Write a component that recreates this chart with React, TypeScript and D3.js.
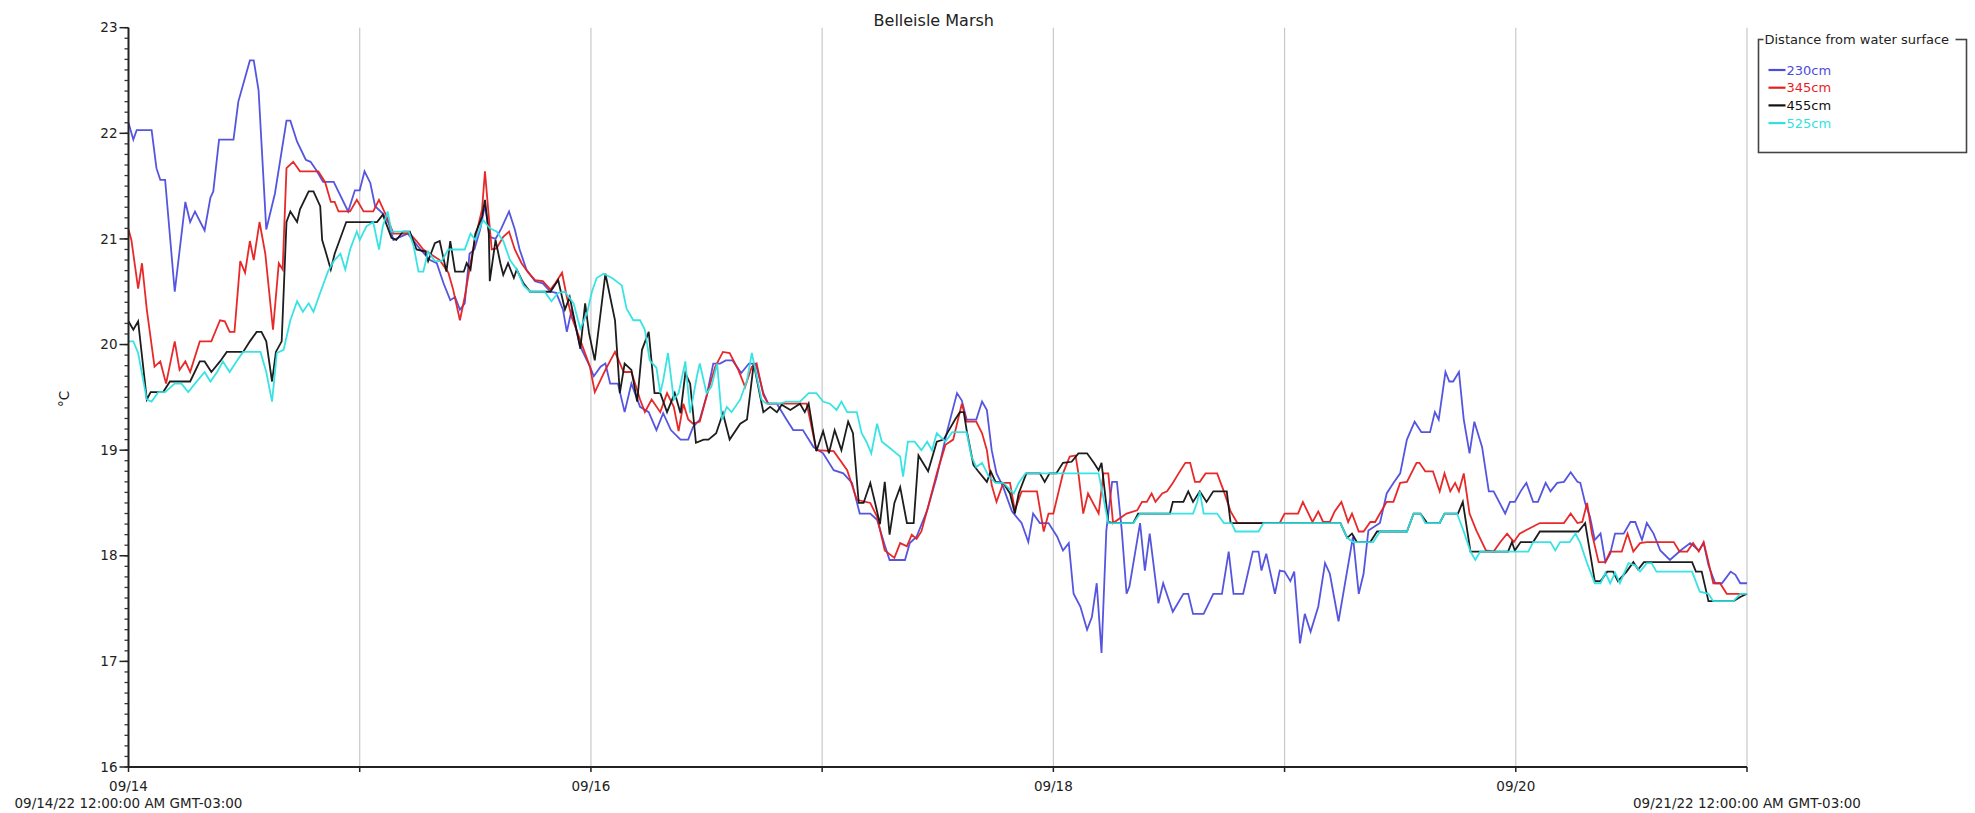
import React from "react";
import * as d3 from "d3";

const chartTitle = "Belleisle Marsh";
const yAxisLabel = "°C";
const legendTitle = "Distance from water surface";
const seriesNames = ["230cm", "345cm", "455cm", "525cm"];
const seriesColors = ["#4c4cde", "#e61e1e", "#111111", "#2fe2e2"];
const startLabel = "09/14/22 12:00:00 AM GMT-03:00";
const endLabel = "09/21/22 12:00:00 AM GMT-03:00";
const dayTickLabels = ["09/14", "09/16", "09/18", "09/20"];
const dayCount = 7;
const yDomain = [16, 23];

// [hours since 09/14 00:00, °C]
const s230: [number, number][] = [[0,22.10],[0.5,21.94],[0.85,22.03],[2.4,22.03],[2.9,21.67],[3.3,21.56],[3.8,21.56],[4.8,20.5],[5.9,21.35],[6.4,21.16],[6.9,21.26],[7.9,21.08],[8.5,21.39],[8.8,21.45],[9.4,21.94],[10.9,21.94],[11.4,22.3],[12.6,22.69],[13,22.69],[13.5,22.41],[14.3,21.09],[15.2,21.43],[16.4,22.12],[16.8,22.12],[17.5,21.92],[18.4,21.75],[18.9,21.73],[19.5,21.65],[20.2,21.54],[21.3,21.54],[22.8,21.26],[23.5,21.46],[24,21.46],[24.5,21.64],[25.1,21.53],[25.6,21.31],[26.4,21.24],[27,21.15],[27.5,20.99],[28.2,21.02],[29,21.05],[30.3,20.9],[31.3,20.8],[32,20.77],[32.7,20.58],[33.4,20.42],[33.9,20.45],[34.4,20.33],[34.9,20.39],[35.4,20.86],[35.9,20.9],[36.5,21.09],[37,21.32],[37.5,21.02],[38.1,21.0],[38.7,21.1],[39.5,21.26],[40.1,21.09],[40.6,20.9],[41.3,20.71],[42.2,20.6],[43,20.58],[43.8,20.5],[44.4,20.49],[45.1,20.33],[45.5,20.12],[46,20.33],[46.9,19.98],[47.9,19.79],[48.3,19.7],[49,19.79],[49.5,19.82],[50,19.63],[50.8,19.63],[51.5,19.36],[52.2,19.63],[53.1,19.41],[54,19.36],[54.8,19.19],[55.5,19.35],[56.3,19.19],[57.3,19.1],[58.1,19.1],[58.6,19.22],[59.3,19.29],[60,19.51],[60.7,19.82],[61.4,19.82],[62,19.85],[62.7,19.85],[63.6,19.73],[64.4,19.82],[65.1,19.82],[65.9,19.54],[66.4,19.44],[67.3,19.44],[68.3,19.29],[69,19.19],[70,19.19],[71.1,19.03],[72.1,18.97],[73.2,18.81],[74.2,18.78],[75.1,18.69],[75.9,18.4],[77,18.4],[77.7,18.34],[78.5,18.1],[79,17.96],[80.6,17.96],[81.1,18.12],[81.8,18.18],[82.9,18.43],[83.9,18.75],[85,19.19],[86,19.54],[86.5,19.47],[87,19.29],[88,19.29],[88.6,19.46],[89.1,19.38],[89.6,19.0],[90.1,18.78],[90.8,18.65],[91.7,18.42],[92.7,18.31],[93.4,18.13],[93.9,18.4],[94.6,18.31],[95.5,18.31],[96.4,18.18],[97,18.05],[97.6,18.12],[98.1,17.64],[98.8,17.52],[99.5,17.3],[100,17.42],[100.5,17.74],[101,17.08],[101.5,18.24],[102.1,18.7],[102.6,18.7],[103.1,18.24],[103.6,17.64],[103.9,17.71],[105,18.31],[105.5,17.86],[106,18.21],[106.9,17.55],[107.4,17.74],[108.4,17.47],[109.5,17.64],[110,17.64],[110.5,17.45],[111.6,17.45],[112.6,17.64],[113.5,17.64],[114.2,18.04],[114.7,17.64],[115.7,17.64],[116.7,18.04],[117.3,18.04],[117.6,17.86],[118.1,18.02],[119,17.64],[119.5,17.86],[120,17.85],[120.6,17.76],[121,17.85],[121.6,17.17],[122.1,17.45],[122.7,17.28],[123.5,17.52],[124.2,17.93],[124.7,17.83],[125.6,17.38],[126.5,17.86],[127.1,18.18],[127.7,17.64],[128.2,17.83],[128.7,18.24],[129.9,18.31],[130.6,18.59],[131.3,18.69],[132,18.78],[132.7,19.1],[133.5,19.27],[134.2,19.17],[135.1,19.17],[135.6,19.36],[136,19.29],[136.7,19.74],[137.1,19.65],[137.5,19.65],[138.1,19.74],[138.6,19.29],[139.2,18.97],[139.7,19.27],[140.5,19.03],[141.2,18.61],[141.7,18.61],[142.9,18.4],[143.4,18.51],[143.9,18.51],[144.5,18.61],[145.1,18.69],[145.8,18.51],[146.3,18.51],[147.1,18.69],[147.6,18.61],[148.3,18.69],[149,18.7],[149.7,18.79],[150.4,18.7],[150.7,18.69],[151.2,18.5],[151.7,18.37],[152.2,18.15],[152.8,18.21],[153.3,17.94],[153.8,18.02],[154.3,18.21],[155.2,18.21],[155.9,18.32],[156.4,18.32],[157.1,18.15],[157.6,18.31],[158.3,18.21],[159,18.05],[160,17.96],[161.1,18.05],[162.1,18.12],[163,18.05],[163.5,18.12],[164,17.91],[164.7,17.74],[165.4,17.74],[166.3,17.85],[166.8,17.82],[167.3,17.74],[168,17.74]];

const s345: [number, number][] = [[0,21.09],[0.3,20.99],[1,20.53],[1.4,20.77],[1.9,20.33],[2.7,19.79],[3.3,19.84],[3.9,19.63],[4.8,20.03],[5.3,19.76],[5.9,19.84],[6.4,19.74],[7.4,20.03],[8.6,20.03],[9.5,20.23],[10,20.22],[10.5,20.12],[11,20.12],[11.6,20.79],[12.1,20.68],[12.6,20.98],[13,20.8],[13.6,21.16],[14.2,20.86],[15,20.14],[15.6,20.77],[16,20.71],[16.4,21.67],[17.1,21.73],[17.8,21.64],[19.7,21.64],[20.4,21.54],[21,21.35],[21.4,21.35],[21.8,21.26],[23,21.26],[23.7,21.37],[24.4,21.26],[25.4,21.26],[26,21.37],[26.8,21.21],[27.5,21.05],[29.2,21.05],[29.9,20.98],[30.6,20.9],[31.3,20.86],[32.3,20.8],[33.2,20.68],[33.7,20.52],[34.4,20.23],[34.9,20.45],[35.5,20.77],[36.1,21.05],[36.7,21.28],[37,21.64],[37.4,21.21],[37.7,20.9],[38.2,20.91],[38.9,21.02],[39.5,21.07],[40.1,20.9],[40.8,20.77],[41.5,20.68],[42.2,20.61],[43,20.6],[43.8,20.52],[44.3,20.58],[45,20.68],[45.5,20.45],[46,20.26],[46.9,20.04],[47.9,19.79],[48.4,19.55],[49.5,19.76],[50.5,19.93],[51.4,19.74],[52.2,19.74],[53.1,19.48],[53.6,19.36],[54.3,19.48],[55.2,19.36],[55.9,19.54],[56.6,19.41],[57.1,19.18],[57.6,19.44],[58.1,19.29],[58.6,19.25],[59.3,19.27],[60,19.51],[60.9,19.79],[61.7,19.93],[62.4,19.92],[63.3,19.76],[64,19.6],[64.7,19.79],[65.2,19.82],[65.9,19.52],[66.4,19.44],[70.4,19.44],[71.4,19.0],[73.2,18.99],[74.6,18.81],[75.6,18.53],[77,18.5],[77.7,18.37],[78.5,18.05],[79.5,17.98],[80.1,18.12],[80.8,18.09],[81.3,18.2],[81.8,18.16],[82.3,18.23],[82.9,18.43],[83.9,18.78],[84.8,19.05],[85.6,19.1],[86.5,19.44],[87,19.27],[88,19.27],[88.6,19.16],[89.1,19.0],[89.6,18.67],[90.1,18.51],[90.8,18.69],[91.5,18.69],[92,18.43],[92.7,18.61],[94.3,18.61],[95,18.23],[95.5,18.4],[96,18.4],[97,18.78],[97.7,18.94],[98.3,18.95],[98.6,18.78],[99.1,18.4],[99.6,18.59],[100.7,18.4],[101.2,18.78],[101.7,18.78],[102.2,18.31],[103.6,18.4],[104.7,18.43],[105.2,18.51],[105.7,18.51],[106.2,18.59],[106.6,18.51],[107.3,18.59],[107.8,18.61],[108.4,18.69],[109,18.78],[109.7,18.88],[110.2,18.88],[110.7,18.7],[111.2,18.7],[111.8,18.78],[113,18.78],[113.7,18.61],[114.4,18.42],[115.1,18.31],[119.5,18.31],[120,18.4],[121.4,18.4],[121.9,18.51],[122.9,18.32],[123.5,18.42],[124,18.32],[124.7,18.32],[125.2,18.42],[125.9,18.51],[126.6,18.32],[127,18.4],[127.7,18.23],[128.2,18.23],[128.9,18.32],[129.4,18.32],[129.9,18.4],[130.6,18.51],[131.3,18.51],[132,18.69],[132.7,18.7],[133.7,18.88],[134,18.88],[134.6,18.8],[135.4,18.8],[136.1,18.61],[136.6,18.78],[137.2,18.61],[137.7,18.69],[138.1,18.61],[138.6,18.78],[139.2,18.4],[139.9,18.24],[140.9,18.05],[141.7,18.04],[142.4,18.13],[143.1,18.21],[143.8,18.13],[144.4,18.21],[146.5,18.31],[149,18.31],[149.7,18.4],[150.4,18.31],[150.9,18.32],[151.4,18.5],[151.9,18.21],[152.6,17.94],[153.3,17.94],[153.8,18.04],[155,18.04],[155.6,18.21],[156.2,18.04],[156.9,18.12],[157.6,18.13],[160.4,18.13],[161,18.04],[161.8,18.04],[162.4,18.12],[163,18.04],[163.5,18.13],[164,17.94],[164.5,17.74],[165.2,17.74],[165.9,17.64],[168,17.64]];

const s455: [number, number][] = [[0,20.22],[0.5,20.14],[1,20.22],[1.9,19.48],[2.3,19.55],[3.6,19.55],[4.3,19.65],[6.4,19.65],[7.4,19.84],[7.9,19.84],[8.6,19.74],[9.5,19.84],[10.2,19.93],[11.9,19.93],[12.6,20.03],[13.3,20.12],[13.8,20.12],[14.3,20.03],[14.9,19.65],[15.3,19.93],[15.9,20.03],[16.4,21.16],[16.8,21.26],[17.5,21.16],[17.8,21.28],[18.7,21.45],[19.2,21.45],[19.9,21.31],[20.1,20.99],[20.4,20.9],[21,20.71],[21.4,20.86],[22.6,21.16],[25.8,21.16],[26.4,21.23],[27.3,21.01],[27.8,20.99],[28.5,21.07],[29.2,21.07],[29.9,20.9],[30.8,20.88],[31.1,20.79],[31.8,20.96],[32.3,20.98],[33,20.69],[33.4,20.98],[33.9,20.69],[34.8,20.69],[35.1,20.77],[35.5,20.71],[36,21.05],[36.7,21.21],[37,21.37],[37.4,21.05],[37.5,20.6],[38.1,20.99],[38.6,20.77],[38.9,20.66],[39.4,20.77],[40,20.63],[40.3,20.71],[41,20.58],[41.7,20.5],[43.8,20.5],[44.6,20.61],[45.3,20.33],[45.8,20.45],[46.9,19.96],[47.4,20.39],[47.8,20.11],[48.4,19.85],[49.5,20.67],[50.5,20.23],[51,19.54],[51.5,19.82],[52.2,19.76],[52.8,19.46],[53.3,19.95],[54,20.12],[54.6,19.54],[55.2,19.54],[55.9,19.36],[56.7,19.54],[57.3,19.35],[57.8,19.73],[58.3,19.63],[58.9,19.07],[59.7,19.1],[60.2,19.1],[61,19.16],[61.7,19.35],[62.4,19.1],[63.5,19.25],[64.2,19.29],[64.9,19.82],[65.5,19.54],[65.9,19.36],[66.6,19.41],[67.3,19.36],[67.8,19.43],[68.7,19.38],[69.7,19.44],[70.2,19.36],[70.6,19.44],[71.4,18.99],[72.1,19.18],[72.7,18.97],[73.3,19.19],[74,19.0],[74.7,19.27],[75.2,19.16],[75.8,18.5],[76.3,18.5],[77,18.69],[77.5,18.5],[78,18.3],[78.5,18.7],[79,18.2],[79.5,18.5],[80.1,18.65],[80.8,18.31],[81.5,18.31],[82,18.95],[83,18.8],[83.9,19.08],[84.6,19.1],[85.8,19.29],[86.3,19.36],[86.7,19.36],[87,19.19],[87.7,18.86],[88.2,18.8],[89.1,18.7],[89.5,18.8],[90,18.7],[90.8,18.69],[91.5,18.59],[92,18.4],[92.4,18.59],[93.2,18.78],[94.6,18.78],[95.1,18.7],[95.6,18.78],[96.3,18.78],[97,18.88],[97.9,18.89],[98.6,18.97],[99.5,18.97],[100.2,18.88],[100.7,18.81],[101,18.88],[101.7,18.32],[102.2,18.31],[104.3,18.31],[104.8,18.4],[108.1,18.4],[108.4,18.51],[109.5,18.51],[110,18.61],[110.5,18.51],[111.2,18.61],[111.9,18.51],[112.6,18.61],[114,18.61],[114.4,18.31],[117.1,18.31],[125.8,18.31],[126.5,18.17],[127,18.21],[127.5,18.13],[128.9,18.13],[129.6,18.23],[132.7,18.23],[133.4,18.4],[134.1,18.4],[134.8,18.31],[136.1,18.31],[136.6,18.4],[138,18.4],[138.5,18.51],[139.3,18.04],[143.2,18.04],[143.6,18.13],[143.9,18.05],[144.5,18.13],[145.8,18.13],[146.5,18.23],[150.5,18.23],[151.2,18.31],[152.2,17.76],[152.8,17.76],[153.5,17.85],[154.1,17.85],[154.6,17.76],[155.5,17.85],[156.2,17.94],[156.7,17.87],[157.3,17.94],[162.3,17.94],[162.7,17.85],[163.3,17.85],[164,17.57],[166.6,17.57],[167.3,17.61],[168,17.64]];

const s525: [number, number][] = [[0,20.03],[0.5,20.03],[1,19.92],[1.9,19.48],[2.4,19.46],[3.1,19.55],[3.8,19.55],[4.8,19.63],[5.5,19.63],[6.2,19.55],[6.9,19.63],[7.9,19.74],[8.5,19.65],[9.2,19.74],[9.8,19.84],[10.5,19.74],[11.2,19.84],[11.9,19.93],[13.7,19.93],[14.3,19.74],[14.9,19.46],[15.4,19.92],[16.1,19.95],[16.8,20.23],[17.5,20.41],[18.1,20.31],[18.7,20.39],[19.2,20.31],[19.9,20.49],[20.7,20.69],[21.3,20.79],[22,20.86],[22.5,20.71],[23,20.9],[23.7,21.07],[24,20.99],[24.7,21.12],[25.4,21.16],[26,20.9],[26.4,21.12],[26.9,21.26],[27.3,21.07],[29.1,21.07],[29.6,20.93],[30.1,20.69],[30.6,20.69],[31.1,20.88],[31.8,20.79],[32.5,20.79],[33.2,20.9],[34.9,20.9],[35.5,21.05],[36,20.99],[36.8,21.18],[37.5,21.1],[38.2,21.07],[38.9,20.98],[39.6,20.8],[40.3,20.71],[41,20.56],[41.7,20.5],[43.2,20.5],[43.9,20.41],[44.6,20.49],[45.3,20.5],[46.2,20.39],[46.9,20.15],[47.6,20.3],[48.1,20.5],[48.6,20.63],[49.3,20.67],[50.2,20.63],[51.2,20.56],[51.7,20.34],[52.4,20.23],[53.1,20.23],[53.6,20.14],[54.1,19.85],[54.8,19.78],[55.2,19.54],[55.5,19.66],[56,19.92],[56.6,19.48],[57.1,19.54],[57.8,19.84],[58.3,19.35],[59,19.7],[59.3,19.82],[60,19.54],[60.5,19.6],[61.1,19.82],[61.6,19.29],[62.1,19.41],[62.6,19.36],[63.5,19.48],[64.2,19.66],[64.7,19.92],[65.2,19.7],[65.7,19.48],[66.2,19.44],[67.6,19.44],[68.3,19.46],[69.7,19.46],[70.6,19.54],[71.4,19.54],[72.1,19.46],[72.8,19.44],[73.5,19.38],[74,19.46],[74.6,19.36],[75.6,19.36],[76.1,19.16],[76.6,19.08],[77.1,18.97],[77.7,19.25],[78.2,19.08],[78.9,19.03],[79.7,18.97],[80.1,18.94],[80.4,18.75],[80.9,19.08],[81.6,19.08],[82.3,19.0],[82.9,19.08],[83.4,19.0],[83.9,19.16],[84.8,19.08],[85.5,19.17],[87,19.17],[87.5,18.94],[88,18.84],[88.6,18.88],[89.3,18.75],[90,18.69],[90.8,18.69],[91.9,18.59],[92.4,18.69],[93.1,18.78],[100.7,18.78],[101.7,18.31],[104.3,18.31],[105,18.4],[110.5,18.4],[110.9,18.5],[111.2,18.61],[111.6,18.4],[113,18.4],[113.7,18.31],[114.5,18.31],[114.9,18.23],[117.3,18.23],[117.8,18.31],[125.8,18.31],[126.5,18.17],[127.1,18.13],[129.2,18.13],[129.9,18.23],[132.7,18.23],[133.4,18.4],[134.1,18.4],[134.6,18.31],[136.1,18.31],[136.6,18.4],[137.9,18.4],[138.6,18.23],[139.3,18.04],[139.8,17.96],[140.3,18.04],[145.3,18.04],[145.8,18.13],[147.6,18.13],[148.1,18.05],[148.6,18.13],[149.6,18.13],[150.2,18.21],[150.7,18.12],[151.4,17.93],[152.2,17.74],[152.8,17.74],[153.3,17.84],[153.8,17.74],[154.3,17.84],[154.8,17.74],[155.7,17.93],[156.4,17.91],[156.9,17.85],[157.6,17.93],[158.1,17.93],[158.6,17.85],[162.3,17.85],[163.1,17.66],[164,17.64],[164.5,17.57],[166.6,17.57],[167.3,17.64],[168,17.64]];

const allSeries = [s230, s345, s455, s525];

const W = 1975;
const H = 813;
const M = { left: 128.5, right: 1747, top: 27.7, bottom: 767 };
const FONT = "'DejaVu Sans', Verdana, sans-serif";

export default function App() {
  const x = d3.scaleLinear().domain([0, dayCount * 24]).range([M.left, M.right]);
  const y = d3.scaleLinear().domain(yDomain).range([M.bottom, M.top]);
  const line = d3
    .line<[number, number]>()
    .x((d) => x(d[0]))
    .y((d) => y(d[1]));

  const dayHours = d3.range(0, dayCount + 1).map((d) => d * 24);
  const majorY = y.ticks(yDomain[1] - yDomain[0]);
  const minorY = d3.range(yDomain[0] * 10, yDomain[1] * 10 + 1).map((v) => v / 10);
  const labelHour = (s: string) => (parseInt(s.split("/")[1], 10) - 14) * 24;

  const lg = { x: 1758.5, y: 39.5, w: 208, h: 113 };
  const rowY = [70, 87.7, 105.4, 123.1];

  return (
    <svg
      width={W}
      height={H}
      style={{ position: "absolute", left: 0, top: 0, display: "block", background: "#fff" }}
      fontFamily={FONT}
    >
      <rect x={0} y={0} width={W} height={H} fill="#fff" />
      {/* vertical grid lines */}
      {dayHours.slice(1).map((h) => (
        <line key={"g" + h} x1={x(h)} x2={x(h)} y1={M.top} y2={M.bottom} stroke="#c9c9c9" strokeWidth={1.2} />
      ))}

      {/* series */}
      {allSeries.map((s, i) => (
        <path
          key={"s" + i}
          d={line(s) || ""}
          fill="none"
          stroke={seriesColors[i]}
          strokeWidth={1.8}
          strokeLinejoin="miter"
          strokeOpacity={0.95}
        />
      ))}

      {/* y axis */}
      <line x1={M.left} x2={M.left} y1={M.top} y2={M.bottom} stroke="#222" strokeWidth={2} />
      {minorY.map((v) => (
        <line key={"mt" + v} x1={M.left - 4} x2={M.left} y1={y(v)} y2={y(v)} stroke="#333" strokeWidth={1.3} />
      ))}
      {majorY.map((v) => (
        <g key={"yt" + v}>
          <line x1={M.left - 9} x2={M.left} y1={y(v)} y2={y(v)} stroke="#222" strokeWidth={1.5} />
          <text x={M.left - 11} y={y(v)} dy="0.35em" textAnchor="end" fontSize={13.5} fill="#222">
            {v}
          </text>
        </g>
      ))}
      <text
        transform={`translate(64,399) rotate(-90)`}
        textAnchor="middle"
        dy="0.35em"
        fontSize={13.5}
        fill="#222"
      >
        {yAxisLabel}
      </text>

      {/* x axis */}
      <line x1={M.left} x2={M.right} y1={M.bottom} y2={M.bottom} stroke="#222" strokeWidth={2.2} />
      {dayHours.map((h) => (
        <line key={"xt" + h} x1={x(h)} x2={x(h)} y1={M.bottom} y2={M.bottom + 5} stroke="#222" strokeWidth={1.5} />
      ))}
      {dayTickLabels.map((s) => (
        <text key={"xl" + s} x={x(labelHour(s))} y={791} textAnchor="middle" fontSize={13.5} fill="#222">
          {s}
        </text>
      ))}
      <text x={x(0)} y={808} textAnchor="middle" fontSize={13.5} fill="#222">
        {startLabel}
      </text>
      <text x={x(dayCount * 24)} y={808} textAnchor="middle" fontSize={13.5} fill="#222">
        {endLabel}
      </text>

      {/* title */}
      <text x={(M.left + M.right) / 2 - 4} y={26} textAnchor="middle" fontSize={16} fill="#222">
        {chartTitle}
      </text>

      {/* legend */}
      <rect x={lg.x} y={lg.y} width={lg.w} height={lg.h} fill="#fff" stroke="#444" strokeWidth={1.6} />
      <rect x={lg.x + 5} y={lg.y - 8} width={192} height={16} fill="#fff" />
      <text x={lg.x + 6} y={lg.y} dy="0.35em" fontSize={13} fill="#222">
        {legendTitle}
      </text>
      {seriesNames.map((n, i) => (
        <g key={"lg" + n}>
          <line x1={lg.x + 10} x2={lg.x + 27} y1={rowY[i]} y2={rowY[i]} stroke={seriesColors[i]} strokeWidth={2.2} />
          <text x={lg.x + 28} y={rowY[i]} dy="0.35em" fontSize={13} fill={seriesColors[i]}>
            {n}
          </text>
        </g>
      ))}
    </svg>
  );
}
